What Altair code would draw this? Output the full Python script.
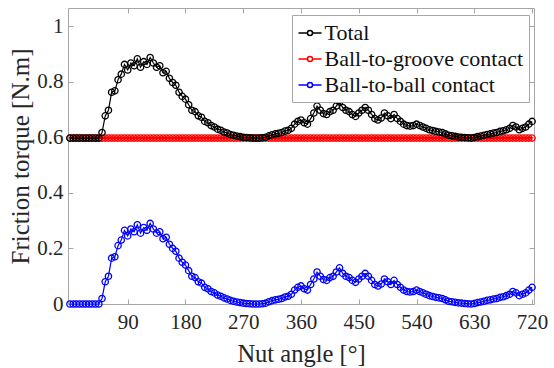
import altair as alt
import pandas as pd

# Nut angle (degrees)
deg = list(range(0, 725, 5))

# Ball-to-ball contact friction torque [N.m]
ball = [0, 0, 0, 0, 0, 0, 0, 0, 0, 0,
        0.02, 0.08, 0.10, 0.165, 0.17, 0.21, 0.23, 0.265, 0.245, 0.27,
        0.26, 0.285, 0.255, 0.275, 0.265, 0.29, 0.27, 0.255, 0.26, 0.235,
        0.24, 0.215, 0.2, 0.19, 0.165, 0.15, 0.14, 0.12, 0.1, 0.095,
        0.08, 0.075, 0.06, 0.055, 0.045, 0.04, 0.032, 0.028, 0.022, 0.018,
        0.013, 0.01, 0.007, 0.005, 0.003, 0.002, 0.001, 0, 0, 0,
        0.001, 0.003, 0.008, 0.012, 0.015, 0.017, 0.02, 0.025, 0.028, 0.035,
        0.05, 0.06, 0.065, 0.055, 0.05, 0.07, 0.09, 0.115, 0.1, 0.088,
        0.085, 0.095, 0.1, 0.115, 0.13, 0.11, 0.1, 0.095, 0.085, 0.078,
        0.09, 0.1, 0.11, 0.1, 0.085, 0.07, 0.065, 0.072, 0.09, 0.08,
        0.07, 0.085, 0.07, 0.06, 0.05, 0.045, 0.043, 0.045, 0.05, 0.045,
        0.04, 0.035, 0.03, 0.027, 0.024, 0.022, 0.02, 0.015, 0.01, 0.008,
        0.006, 0.004, 0.003, 0.002, 0.001, 0, 0.002, 0.005, 0.007, 0.01,
        0.013, 0.015, 0.018, 0.02, 0.024, 0.026, 0.03, 0.035, 0.045, 0.04,
        0.03, 0.035, 0.04, 0.05, 0.06]

# Total friction torque [N.m]
total = [0.597, 0.597, 0.597, 0.597, 0.597, 0.597, 0.597, 0.597, 0.597, 0.597,
         0.617, 0.677, 0.697, 0.762, 0.767, 0.807, 0.827, 0.862, 0.842, 0.867,
         0.857, 0.882, 0.852, 0.872, 0.862, 0.887, 0.867, 0.852, 0.857, 0.832,
         0.837, 0.812, 0.797, 0.787, 0.762, 0.747, 0.737, 0.717, 0.697, 0.692,
         0.677, 0.672, 0.657, 0.652, 0.642, 0.637, 0.629, 0.625, 0.619, 0.615,
         0.610, 0.607, 0.604, 0.602, 0.600, 0.599, 0.598, 0.597, 0.597, 0.597,
         0.598, 0.600, 0.605, 0.609, 0.612, 0.614, 0.617, 0.622, 0.625, 0.632,
         0.647, 0.657, 0.662, 0.652, 0.647, 0.667, 0.687, 0.712, 0.697, 0.685,
         0.682, 0.692, 0.697, 0.712, 0.727, 0.707, 0.697, 0.692, 0.682, 0.675,
         0.687, 0.697, 0.707, 0.697, 0.682, 0.667, 0.662, 0.669, 0.687, 0.677,
         0.667, 0.682, 0.667, 0.657, 0.647, 0.642, 0.640, 0.642, 0.647, 0.642,
         0.637, 0.632, 0.627, 0.624, 0.621, 0.619, 0.617, 0.612, 0.607, 0.605,
         0.603, 0.601, 0.600, 0.599, 0.598, 0.597, 0.599, 0.602, 0.604, 0.607,
         0.610, 0.612, 0.615, 0.617, 0.621, 0.623, 0.627, 0.632, 0.642, 0.637,
         0.627, 0.632, 0.637, 0.647, 0.657]

# Ball-to-groove contact friction torque [N.m] (constant)
groove = [0.597] * len(deg)

series_names = ["Total", "Ball-to-groove contact", "Ball-to-ball contact"]
series_colors = ["#000000", "#ff0000", "#0000ff"]
x_ticks = [90, 180, 270, 360, 450, 540, 630, 720]
y_ticks = [0, 0.2, 0.4, 0.6, 0.8, 1]

FONT = "Times New Roman, Liberation Serif, serif"
GRAY = "#a6a6a6"
TXT = "#262626"

xs = alt.Scale(domain=[-3, 723], nice=False, zero=False)
ys = alt.Scale(domain=[0, 1.065], nice=False, zero=False)
cs = alt.Scale(domain=series_names, range=series_colors)

xaxis = alt.Axis(values=x_ticks, orient="bottom", offset=-5, domain=False,
                 tickSize=5, tickColor=GRAY, grid=False, labelPadding=7,
                 labelFont=FONT, labelFontSize=21, labelColor=TXT,
                 labelFlush=False, title="Nut angle [°]", titleFont=FONT,
                 titleFontSize=24.5, titleFontWeight="normal", titleColor=TXT,
                 titlePadding=10)
yaxis = alt.Axis(values=y_ticks, orient="left", offset=-5, domain=False,
                 tickSize=5, tickColor=GRAY, grid=False, labelPadding=5,
                 format=".1~f", labelFont=FONT, labelFontSize=21,
                 labelColor=TXT, labelFlush=False,
                 title="Friction torque [N.m]", titleFont=FONT, titleFontSize=25,
                 titleFontWeight="normal", titleColor=TXT, titlePadding=3)

sym = ("M-1,0L-0.22,0M0.22,0L1,0M-0.22,0A0.22,0.22,0,1,1,0.22,0"
       "A0.22,0.22,0,1,1,-0.22,0")
leg = alt.Legend(orient="none", legendX=224, legendY=7, title=None,
                 labelFont=FONT, labelFontSize=22, labelColor="#111111",
                 labelLimit=400,
                 symbolType=sym, symbolSize=529, symbolStrokeWidth=1.5,
                 strokeColor=GRAY, fillColor="white", padding=5.5,
                 rowPadding=2, labelOffset=2)


def series_layers(name, vals, lw):
    d = pd.DataFrame({"deg": deg, "value": vals, "series": name})
    base = alt.Chart(d).encode(
        x=alt.X("deg:Q", scale=xs, axis=xaxis),
        y=alt.Y("value:Q", scale=ys, axis=yaxis),
        color=alt.Color("series:N", scale=cs, legend=leg),
    )
    return [base.mark_line(strokeWidth=lw),
            base.mark_point(filled=False, size=40, strokeWidth=1.3, opacity=1)]


inner = alt.layer(*(series_layers("Ball-to-groove contact", groove, 3)
                    + series_layers("Total", total, 1.2)
                    + series_layers("Ball-to-ball contact", ball, 1.2)))

top_axis = alt.Axis(values=x_ticks, orient="top", offset=-5, domain=False,
                    tickSize=5, tickColor=GRAY, labels=False, title=None, grid=False)
right_axis = alt.Axis(values=y_ticks, orient="right", offset=-5, domain=False,
                      tickSize=5, tickColor=GRAY, labels=False, title=None, grid=False)
axis_layer = alt.Chart(pd.DataFrame({"deg": deg, "value": ball})).mark_point(
    opacity=0).encode(
    x=alt.X("deg:Q", scale=xs, axis=top_axis),
    y=alt.Y("value:Q", scale=ys, axis=right_axis),
)

chart = alt.layer(inner, axis_layer).resolve_axis(
    x="independent", y="independent"
).properties(
    width=466, height=296,
    autosize=alt.AutoSizeParams(type="none"),
    padding={"left": 68, "top": 8, "right": 20, "bottom": 64},
    background="white",
).configure_view(stroke=GRAY, strokeWidth=1)

chart.save("out.html", embed_options={"renderer": "svg", "actions": False})
